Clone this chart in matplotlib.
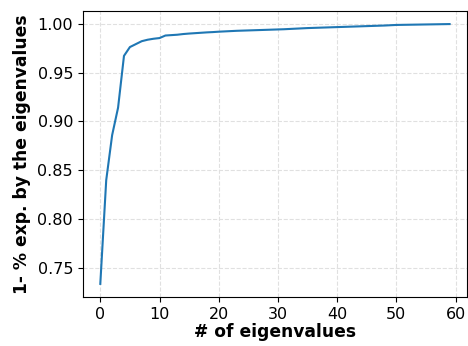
import numpy as np
import matplotlib
matplotlib.use("Agg")
import matplotlib.pyplot as plt

# cumulative explained variance
n_eig = np.arange(60)
explained = [0.734, 0.840, 0.886, 0.914, 0.967, 0.976, 0.979, 0.982, 0.9835, 0.9845,
             0.9852, 0.9878, 0.9882, 0.9886, 0.9893, 0.9898, 0.9902, 0.9906, 0.9910, 0.9913,
             0.9917, 0.9920, 0.9923, 0.9926, 0.9928, 0.9930, 0.9932, 0.9934, 0.9936, 0.9938,
             0.9940, 0.9942, 0.9945, 0.9948, 0.9951, 0.9954, 0.9956, 0.9958, 0.9960, 0.9962,
             0.9964, 0.9966, 0.9968, 0.9970, 0.9972, 0.9974, 0.9976, 0.9978, 0.9980, 0.9983,
             0.9986, 0.9987, 0.9988, 0.9989, 0.9990, 0.9991, 0.9992, 0.9993, 0.9994, 0.9995]

fig = plt.figure(figsize=(4.68, 3.46), dpi=100)
ax = fig.add_axes([0.177, 0.142, 0.821, 0.826])
ax.plot(n_eig, explained, color='#1f77b4', linewidth=1.5)
ax.grid(True, linestyle='--', color='#e0e0e0', linewidth=0.8)
ax.set_xlabel('# of eigenvalues', fontsize=12.3, fontweight='bold', labelpad=1)
ax.set_ylabel('1- % exp. by the eigenvalues', fontsize=12.3, fontweight='bold', labelpad=5)
ax.tick_params(labelsize=11.5)
fig.savefig('out.png', dpi=100)
